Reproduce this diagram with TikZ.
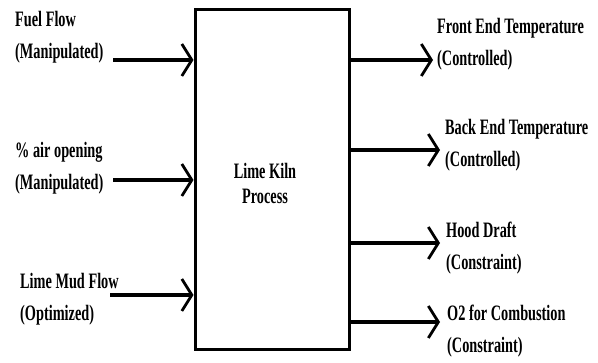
\documentclass[tikz,border=0pt]{standalone}
\usepackage{fontspec}
\setmainfont[FakeStretch=0.65]{Liberation Serif}
\usepackage{tikz}
\usetikzlibrary{arrows.meta, positioning, calc}
\tikzset{
  kilnbox/.style={rectangle, draw, line width=3pt, minimum width=154pt,
    minimum height=340pt, inner sep=0pt},
  kilntext/.style={align=center, inner sep=0pt,
    font=\fontsize{22}{25}\selectfont\bfseries},
  sigtext/.style={anchor=west, inner sep=0pt, align=left,
    font=\fontsize{22}{32}\selectfont\bfseries},
  sigarrow/.style={line width=4pt,
    -{Straight Barb[length=10pt, width=32pt, line width=2.8pt]}},
}

\begin{document}
\begin{tikzpicture}[x=1pt, y=-1pt]
  \useasboundingbox (0,0) rectangle (598,363);
  \node[kilnbox] (kiln) at (272,180) {};
  \node[kilntext] (kilnname) at (265,183) {Lime Kiln\\Process};

  \node[sigtext] (fuel)  at (15,37)  {Fuel Flow\\(Manipulated)};
  \node[sigtext] (air)   at (15,168) {\% air opening\\(Manipulated)};
  \node[sigtext] (mud)   at (20,299) {Lime Mud Flow\\(Optimized)};
  \node[sigtext] (front) at (437,44)  {Front End Temperature\\(Controlled)};
  \node[sigtext] (back)  at (445,145) {Back End Temperature\\(Controlled)};
  \node[sigtext] (hood)  at (446,248) {Hood Draft\\(Constraint)};
  \node[sigtext] (otwo)  at (447,331) {O2 for Combustion\\(Constraint)};

  \coordinate (fuelin)   at (113,60);
  \coordinate (airin)    at (113,180);
  \coordinate (mudin)    at (110,295);
  \coordinate (frontout) at (433,60);
  \coordinate (backout)  at (440,150);
  \coordinate (hoodout)  at (440,243);
  \coordinate (otwoout)  at (440,322);

  \draw[sigarrow] (fuelin) -- (kiln.west |- fuelin);
  \draw[sigarrow] (airin) -- (kiln.west |- airin);
  \draw[sigarrow] (mudin) -- (kiln.west |- mudin);
  \draw[sigarrow] (kiln.east |- frontout) -- (frontout);
  \draw[sigarrow] (kiln.east |- backout) -- (backout);
  \draw[sigarrow] (kiln.east |- hoodout) -- (hoodout);
  \draw[sigarrow] (kiln.east |- otwoout) -- (otwoout);
\end{tikzpicture}
\end{document}
